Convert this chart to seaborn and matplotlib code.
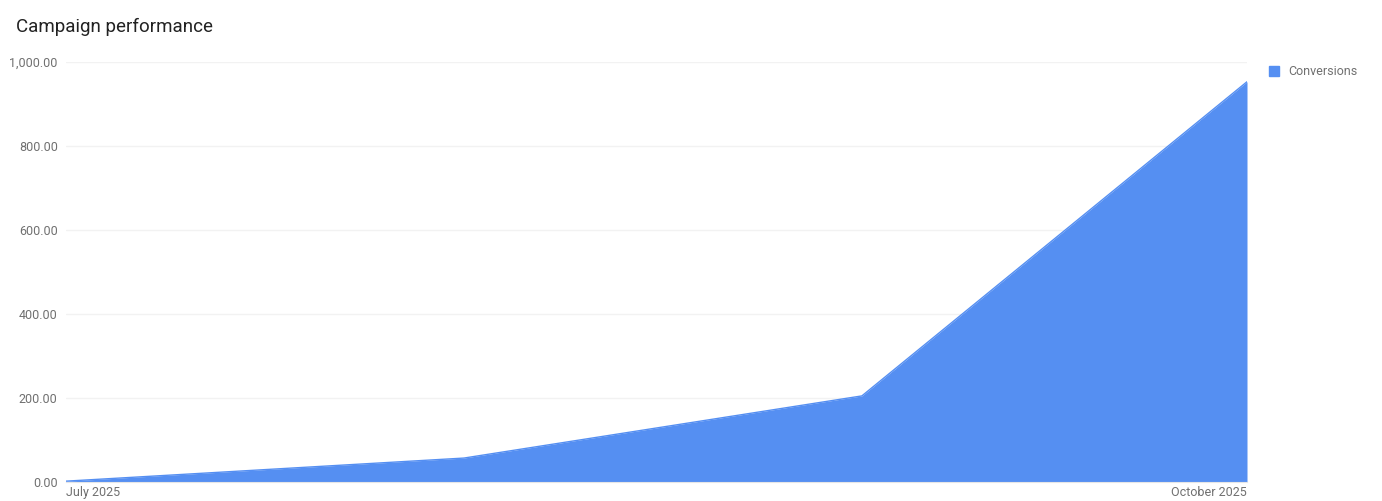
import pandas as pd
import matplotlib.pyplot as plt
import matplotlib.dates as mdates
import seaborn as sns
from matplotlib.patches import Patch

# Monthly conversions
months = ['2025-07-01', '2025-08-01', '2025-09-01', '2025-10-01']
conversions = [2, 57, 205, 953]
tick_labels = ['July 2025', '', '', 'October 2025']

df = pd.DataFrame({'Month': pd.to_datetime(months), 'Conversions': conversions})

sns.set_style('white')
plt.rcParams['font.family'] = ['Roboto', 'DejaVu Sans']

blue = '#558ff2'
fig = plt.figure(figsize=(13.82, 5.01), dpi=100)
ax = fig.add_axes([66 / 1382, 19 / 501, (1247 - 66) / 1382, (482 - 62) / 501])

sns.lineplot(data=df, x='Month', y='Conversions', color=blue, linewidth=1, ax=ax)
ax.fill_between(df['Month'], df['Conversions'], color=blue, linewidth=0)

ax.set_xlim(df['Month'].iloc[0], df['Month'].iloc[-1])
ax.set_ylim(0, 1000)
ax.set_yticks(range(0, 1001, 200))
ax.set_yticklabels([f'{v:,.2f}' for v in range(0, 1001, 200)])
ax.set_xticks(df['Month'])
ax.set_xticklabels(tick_labels)
xt = ax.get_xticklabels()
xt[0].set_ha('left')
xt[-1].set_ha('right')
ax.tick_params(axis='both', length=0, labelsize=9, labelcolor='#707070')
ax.tick_params(axis='x', pad=3)
ax.tick_params(axis='y', pad=6)
ax.set_xlabel('')
ax.set_ylabel('')
ax.grid(axis='y', color='#f2f2f2', linewidth=1)
ax.set_axisbelow(True)
for side in ['top', 'right', 'left']:
    ax.spines[side].set_visible(False)
ax.spines['bottom'].set_color('#e6e6e6')

fig.text(16 / 1382, 1 - 27 / 501, 'Campaign performance', fontsize=13.5,
         color='#222222', va='center', ha='left')

handles = [Patch(facecolor=blue, edgecolor=blue, label='Conversions')]
fig.legend(handles=handles, loc='upper left', bbox_to_anchor=(1258 / 1382, 1 - 54 / 501),
           frameon=False, fontsize=9, labelcolor='#707070', handlelength=0.8,
           handleheight=0.8, handletextpad=0.7)

fig.savefig('out.png', dpi=100)
